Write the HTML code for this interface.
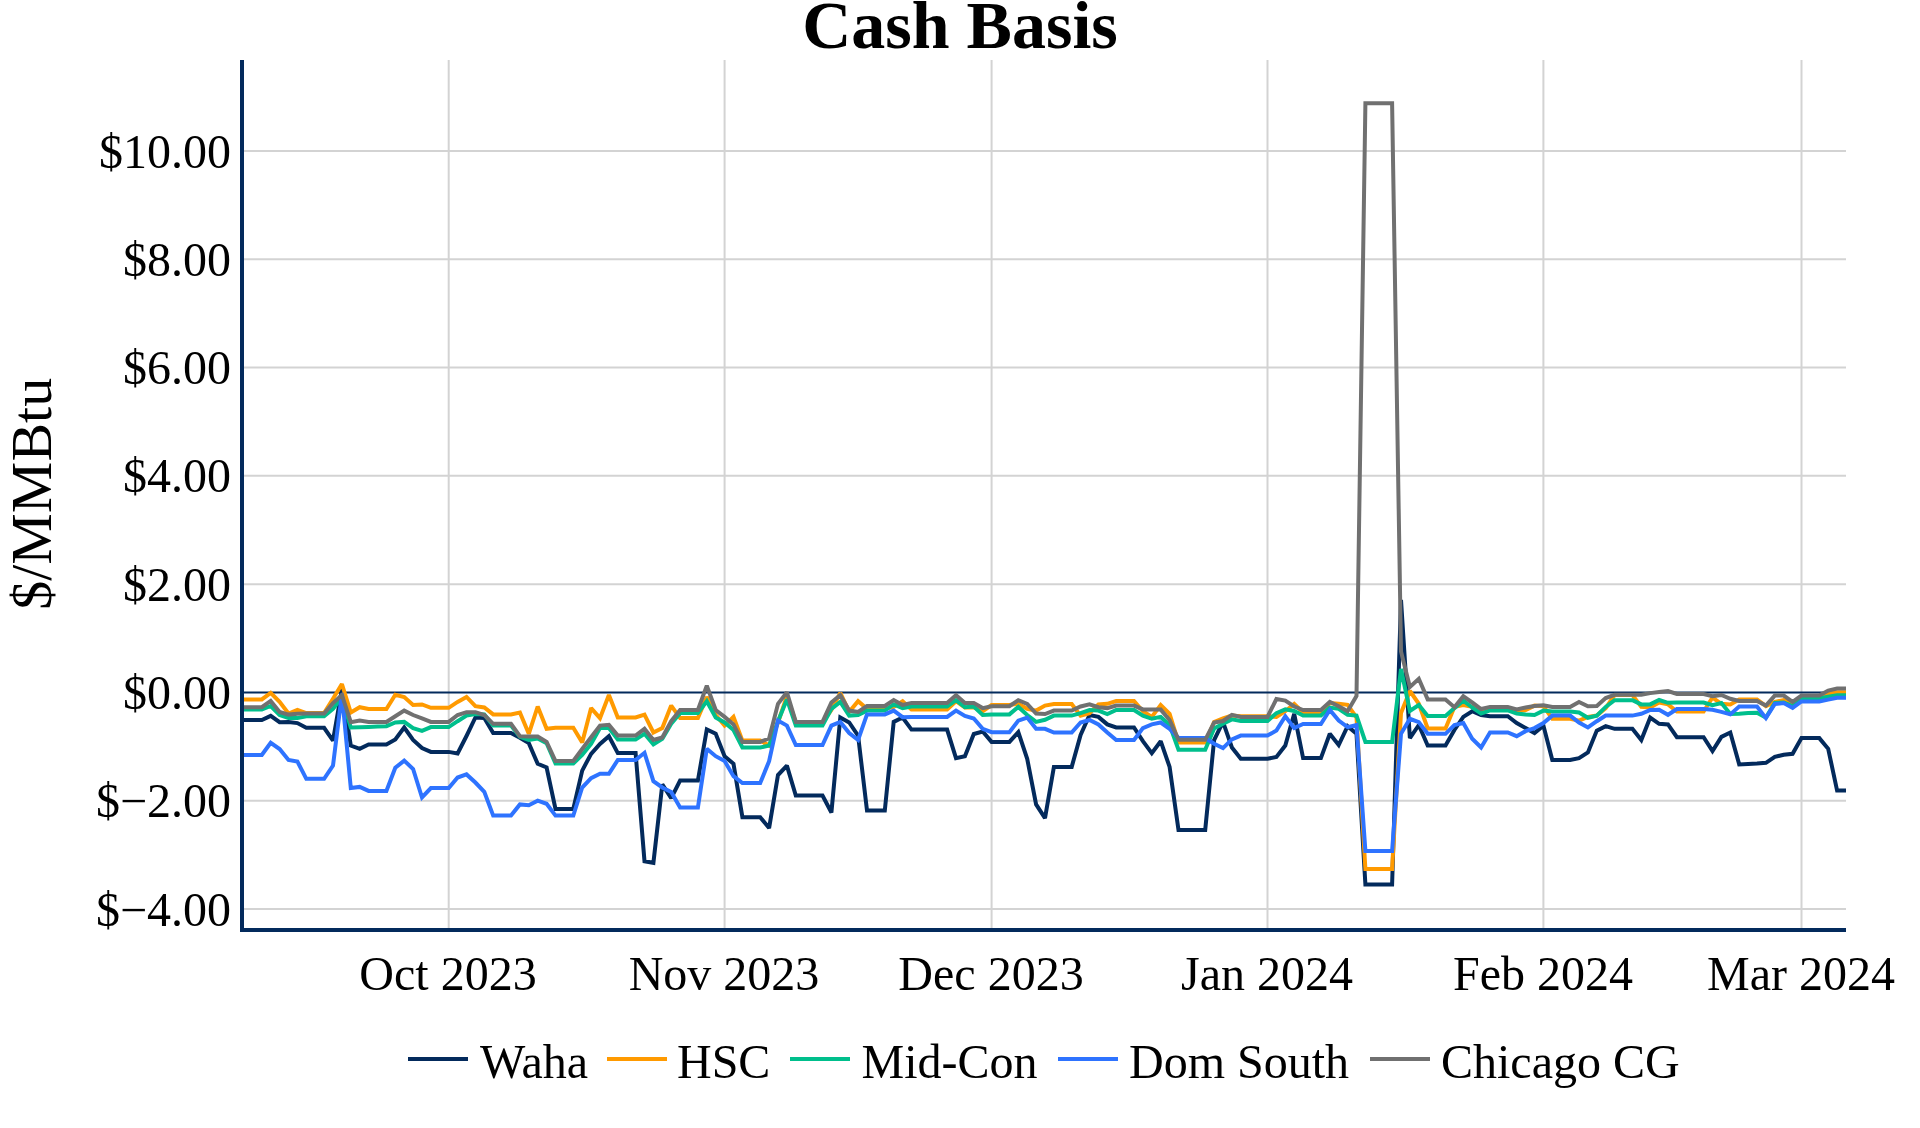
<!DOCTYPE html>
<html><head><meta charset="utf-8"><title>Cash Basis</title>
<style>
html,body{margin:0;padding:0;background:#fff;}
svg{display:block;}
text{font-family:"Liberation Serif",serif;fill:#000;filter:grayscale(1);}
.t{font-size:48px;}
.g line{stroke:#d3d3d3;stroke-width:2;}
.s{fill:none;stroke-width:4;stroke-linejoin:miter;stroke-miterlimit:2;stroke-linecap:butt;}
</style></head><body>
<svg width="1920" height="1128" viewBox="0 0 1920 1128">
<defs><clipPath id="pc"><rect x="244" y="60" width="1602" height="868"/></clipPath></defs>
<rect width="1920" height="1128" fill="#fff"/>
<text x="960" y="48" text-anchor="middle" font-size="68" font-weight="bold">Cash Basis</text>
<g class="g">
<line x1="448.7" y1="60" x2="448.7" y2="928"/><line x1="724.6" y1="60" x2="724.6" y2="928"/><line x1="991.6" y1="60" x2="991.6" y2="928"/><line x1="1267.5" y1="60" x2="1267.5" y2="928"/><line x1="1543.4" y1="60" x2="1543.4" y2="928"/><line x1="1801.5" y1="60" x2="1801.5" y2="928"/>
<line x1="244" y1="150.95" x2="1846" y2="150.95"/><line x1="244" y1="259.25" x2="1846" y2="259.25"/><line x1="244" y1="367.55" x2="1846" y2="367.55"/><line x1="244" y1="475.85" x2="1846" y2="475.85"/><line x1="244" y1="584.15" x2="1846" y2="584.15"/><line x1="244" y1="800.75" x2="1846" y2="800.75"/><line x1="244" y1="909.05" x2="1846" y2="909.05"/>
</g>
<line x1="244" y1="692.45" x2="1846" y2="692.45" stroke="#032a5c" stroke-width="2"/>
<g clip-path="url(#pc)">
<path class="s" stroke="#032a5c" d="M244.0,720.0L252.9,720.0L261.8,720.0L270.7,715.9L279.6,722.2L288.5,722.1L297.4,723.1L306.3,727.8L315.2,727.8L324.1,727.8L333.0,740.6L341.9,689.4L350.8,745.6L359.7,748.8L368.6,744.4L377.5,744.4L386.4,744.4L395.3,739.4L404.2,727.5L413.1,740.0L422.0,748.1L430.9,751.9L439.8,751.9L448.7,751.9L457.6,753.5L466.5,736.0L475.4,717.5L484.3,718.1L493.2,733.1L502.1,733.1L511.0,733.1L519.9,737.8L528.8,743.1L537.7,763.8L546.6,767.5L555.5,809.0L564.4,809.0L573.3,809.0L582.2,770.6L591.1,753.8L600.0,744.0L608.9,736.2L617.8,753.1L626.7,753.1L635.6,753.1L644.5,861.2L653.4,862.8L662.3,784.4L671.2,798.1L680.1,780.6L689.0,780.6L697.9,780.6L706.8,729.4L715.7,733.8L724.6,756.2L733.5,763.8L742.4,817.2L751.3,817.2L760.2,817.2L769.1,828.1L778.0,775.0L786.9,765.6L795.8,795.6L804.7,795.6L813.6,795.6L822.5,795.6L831.4,812.5L840.3,717.5L849.2,722.5L858.1,735.6L867.0,810.6L875.9,810.6L884.8,810.6L893.7,721.9L902.6,717.5L911.5,729.6L920.4,729.6L929.3,729.6L938.2,729.6L947.1,729.6L956.0,758.1L964.9,756.2L973.8,734.0L982.7,731.5L991.6,741.9L1000.5,741.9L1009.4,741.9L1018.3,732.2L1027.2,758.8L1036.1,804.4L1045.0,818.1L1053.9,766.9L1062.8,766.9L1071.7,766.9L1080.6,735.0L1089.5,715.0L1098.4,716.9L1107.3,724.4L1116.2,727.5L1125.1,727.5L1134.0,727.5L1142.9,741.2L1151.8,753.1L1160.7,741.2L1169.6,766.9L1178.5,830.0L1187.4,830.0L1196.3,830.0L1205.2,830.0L1214.1,740.0L1223.0,721.9L1231.9,747.5L1240.8,758.8L1249.7,758.8L1258.6,758.8L1267.5,758.8L1276.4,756.9L1285.3,745.6L1294.2,713.8L1303.1,758.1L1312.0,758.1L1320.9,758.1L1329.8,733.8L1338.7,745.0L1347.6,726.2L1356.5,733.8L1365.4,884.4L1374.3,884.4L1383.2,884.4L1392.1,884.4L1401.0,600.0L1409.9,738.1L1418.8,725.0L1427.7,745.6L1436.6,745.6L1445.5,745.6L1454.4,730.0L1463.3,716.9L1472.2,711.2L1481.1,715.0L1490.0,716.2L1498.9,716.2L1507.8,716.2L1516.7,723.1L1525.6,728.1L1534.5,733.1L1543.4,725.6L1552.3,760.0L1561.2,760.0L1570.1,760.0L1579.0,758.1L1587.9,752.5L1596.8,730.6L1605.7,726.2L1614.6,728.8L1623.5,728.8L1632.4,728.8L1641.3,740.0L1650.2,717.5L1659.1,723.8L1668.0,724.4L1676.9,737.2L1685.8,737.2L1694.7,737.2L1703.6,737.2L1712.5,751.0L1721.4,736.9L1730.3,732.5L1739.2,764.4L1748.1,764.0L1757.0,763.5L1765.9,762.8L1774.8,756.9L1783.7,754.8L1792.6,753.8L1801.5,738.1L1810.4,738.1L1819.3,738.1L1828.2,748.8L1837.1,790.6L1846.0,790.6"/>
<path class="s" stroke="#ff9a00" d="M244.0,699.4L252.9,699.4L261.8,699.4L270.7,692.8L279.6,701.9L288.5,713.5L297.4,710.0L306.3,713.1L315.2,713.1L324.1,713.1L333.0,698.8L341.9,684.0L350.8,712.5L359.7,707.2L368.6,709.0L377.5,709.0L386.4,709.0L395.3,694.8L404.2,697.1L413.1,705.0L422.0,704.4L430.9,707.8L439.8,707.8L448.7,707.8L457.6,701.9L466.5,696.9L475.4,706.2L484.3,707.5L493.2,714.4L502.1,714.4L511.0,714.4L519.9,712.5L528.8,733.8L537.7,706.5L546.6,728.8L555.5,727.8L564.4,727.8L573.3,727.8L582.2,742.5L591.1,708.1L600.0,718.1L608.9,695.0L617.8,717.5L626.7,717.5L635.6,717.5L644.5,714.6L653.4,732.5L662.3,728.1L671.2,705.6L680.1,718.1L689.0,718.1L697.9,718.1L706.8,696.9L715.7,715.0L724.6,725.6L733.5,716.9L742.4,740.6L751.3,740.6L760.2,740.6L769.1,745.6L778.0,722.5L786.9,696.2L795.8,722.5L804.7,722.5L813.6,722.5L822.5,722.5L831.4,710.0L840.3,692.8L849.2,711.9L858.1,701.2L867.0,708.8L875.9,708.8L884.8,708.8L893.7,706.9L902.6,701.2L911.5,709.4L920.4,709.4L929.3,709.4L938.2,709.6L947.1,709.6L956.0,701.2L964.9,707.5L973.8,707.5L982.7,711.2L991.6,705.0L1000.5,705.0L1009.4,705.0L1018.3,703.8L1027.2,708.8L1036.1,710.6L1045.0,705.6L1053.9,704.0L1062.8,704.0L1071.7,704.0L1080.6,715.6L1089.5,713.1L1098.4,704.4L1107.3,703.8L1116.2,701.0L1125.1,701.0L1134.0,701.0L1142.9,711.2L1151.8,716.9L1160.7,705.0L1169.6,713.8L1178.5,742.5L1187.4,742.5L1196.3,742.5L1205.2,742.5L1214.1,722.1L1223.0,718.5L1231.9,715.6L1240.8,716.2L1249.7,716.2L1258.6,716.2L1267.5,716.2L1276.4,716.9L1285.3,711.2L1294.2,704.0L1303.1,712.5L1312.0,712.5L1320.9,712.5L1329.8,703.1L1338.7,703.8L1347.6,704.8L1356.5,717.5L1365.4,869.0L1374.3,869.0L1383.2,869.0L1392.1,869.0L1401.0,713.0L1409.9,691.0L1418.8,703.8L1427.7,728.5L1436.6,728.5L1445.5,728.5L1454.4,706.9L1463.3,705.0L1472.2,706.9L1481.1,711.9L1490.0,709.4L1498.9,709.4L1507.8,709.4L1516.7,711.2L1525.6,710.0L1534.5,705.6L1543.4,706.2L1552.3,718.8L1561.2,718.8L1570.1,718.8L1579.0,720.6L1587.9,716.9L1596.8,715.6L1605.7,708.1L1614.6,695.1L1623.5,695.1L1632.4,695.1L1641.3,706.9L1650.2,707.5L1659.1,702.5L1668.0,704.4L1676.9,711.5L1685.8,711.5L1694.7,711.5L1703.6,711.5L1712.5,697.5L1721.4,703.8L1730.3,704.4L1739.2,699.4L1748.1,699.4L1757.0,699.4L1765.9,706.2L1774.8,701.9L1783.7,700.0L1792.6,703.8L1801.5,696.9L1810.4,696.9L1819.3,696.9L1828.2,693.5L1837.1,692.3L1846.0,692.3"/>
<path class="s" stroke="#00bf8c" d="M244.0,709.4L252.9,709.4L261.8,709.4L270.7,706.0L279.6,715.0L288.5,718.1L297.4,718.1L306.3,716.2L315.2,716.2L324.1,716.2L333.0,708.8L341.9,697.5L350.8,727.5L359.7,727.2L368.6,726.9L377.5,726.6L386.4,726.2L395.3,722.5L404.2,721.9L413.1,728.1L422.0,730.9L430.9,727.1L439.8,727.1L448.7,727.1L457.6,721.2L466.5,715.6L475.4,714.0L484.3,714.4L493.2,725.6L502.1,725.6L511.0,725.6L519.9,736.9L528.8,740.0L537.7,738.5L546.6,743.1L555.5,763.5L564.4,763.5L573.3,763.5L582.2,755.0L591.1,743.8L600.0,728.1L608.9,728.1L617.8,739.4L626.7,739.4L635.6,739.4L644.5,733.8L653.4,744.4L662.3,738.8L671.2,723.8L680.1,713.1L689.0,713.1L697.9,713.1L706.8,701.2L715.7,717.5L724.6,722.5L733.5,730.0L742.4,747.5L751.3,747.5L760.2,747.5L769.1,745.6L778.0,721.2L786.9,699.4L795.8,725.6L804.7,725.6L813.6,725.6L822.5,725.6L831.4,708.8L840.3,701.9L849.2,715.6L858.1,715.0L867.0,710.6L875.9,710.6L884.8,710.6L893.7,704.4L902.6,708.1L911.5,706.5L920.4,706.5L929.3,706.5L938.2,706.5L947.1,706.5L956.0,700.2L964.9,707.2L973.8,706.5L982.7,715.0L991.6,714.4L1000.5,714.4L1009.4,714.4L1018.3,706.9L1027.2,715.0L1036.1,721.9L1045.0,719.8L1053.9,715.6L1062.8,715.6L1071.7,715.6L1080.6,713.1L1089.5,710.0L1098.4,710.6L1107.3,714.0L1116.2,710.0L1125.1,710.0L1134.0,710.0L1142.9,715.6L1151.8,718.8L1160.7,716.9L1169.6,725.0L1178.5,749.8L1187.4,749.8L1196.3,749.8L1205.2,749.8L1214.1,728.5L1223.0,723.8L1231.9,719.4L1240.8,721.0L1249.7,721.0L1258.6,721.0L1267.5,721.0L1276.4,713.1L1285.3,709.4L1294.2,711.0L1303.1,715.6L1312.0,715.6L1320.9,715.6L1329.8,707.5L1338.7,708.8L1347.6,714.8L1356.5,715.6L1365.4,741.9L1374.3,741.9L1383.2,741.9L1392.1,741.9L1401.0,669.0L1409.9,711.0L1418.8,705.0L1427.7,716.0L1436.6,716.0L1445.5,716.0L1454.4,708.1L1463.3,700.6L1472.2,707.5L1481.1,713.5L1490.0,710.4L1498.9,710.4L1507.8,710.4L1516.7,713.5L1525.6,714.4L1534.5,715.0L1543.4,710.6L1552.3,711.5L1561.2,711.5L1570.1,711.5L1579.0,712.5L1587.9,717.8L1596.8,715.6L1605.7,706.9L1614.6,700.2L1623.5,700.2L1632.4,700.2L1641.3,704.4L1650.2,704.4L1659.1,700.0L1668.0,702.8L1676.9,702.5L1685.8,702.5L1694.7,702.5L1703.6,702.5L1712.5,705.2L1721.4,703.1L1730.3,714.0L1739.2,713.8L1748.1,713.1L1757.0,712.8L1765.9,717.5L1774.8,703.0L1783.7,702.5L1792.6,706.2L1801.5,698.2L1810.4,698.2L1819.3,698.2L1828.2,696.8L1837.1,695.2L1846.0,695.2"/>
<path class="s" stroke="#2e73ff" d="M244.0,755.0L252.9,755.0L261.8,755.0L270.7,742.8L279.6,749.0L288.5,760.0L297.4,761.5L306.3,778.8L315.2,778.8L324.1,778.8L333.0,765.6L341.9,693.8L350.8,788.1L359.7,786.9L368.6,790.9L377.5,790.9L386.4,790.9L395.3,767.8L404.2,760.6L413.1,769.0L422.0,797.5L430.9,788.1L439.8,788.1L448.7,788.1L457.6,777.5L466.5,774.4L475.4,782.5L484.3,791.9L493.2,815.6L502.1,815.6L511.0,815.6L519.9,804.4L528.8,805.2L537.7,800.6L546.6,803.8L555.5,815.6L564.4,815.6L573.3,815.6L582.2,787.5L591.1,778.1L600.0,773.8L608.9,773.8L617.8,760.0L626.7,760.0L635.6,760.0L644.5,752.8L653.4,781.2L662.3,787.5L671.2,791.9L680.1,807.5L689.0,807.5L697.9,807.5L706.8,748.8L715.7,756.2L724.6,761.0L733.5,776.2L742.4,783.1L751.3,783.1L760.2,783.1L769.1,761.2L778.0,720.6L786.9,725.6L795.8,745.0L804.7,745.0L813.6,745.0L822.5,745.0L831.4,725.6L840.3,721.9L849.2,733.1L858.1,740.0L867.0,714.4L875.9,714.4L884.8,714.4L893.7,710.6L902.6,717.2L911.5,716.9L920.4,716.9L929.3,716.9L938.2,716.9L947.1,716.9L956.0,710.6L964.9,716.0L973.8,718.5L982.7,728.8L991.6,732.2L1000.5,732.2L1009.4,732.2L1018.3,720.6L1027.2,717.5L1036.1,728.8L1045.0,728.8L1053.9,732.5L1062.8,732.5L1071.7,732.5L1080.6,722.5L1089.5,720.0L1098.4,724.4L1107.3,732.5L1116.2,740.0L1125.1,740.0L1134.0,740.0L1142.9,728.1L1151.8,724.4L1160.7,722.5L1169.6,728.8L1178.5,738.0L1187.4,738.0L1196.3,738.0L1205.2,738.0L1214.1,743.8L1223.0,748.1L1231.9,739.4L1240.8,735.6L1249.7,735.6L1258.6,735.6L1267.5,735.6L1276.4,730.6L1285.3,716.2L1294.2,728.1L1303.1,724.0L1312.0,724.0L1320.9,724.0L1329.8,710.0L1338.7,720.6L1347.6,727.2L1356.5,725.0L1365.4,851.0L1374.3,851.0L1383.2,851.0L1392.1,851.0L1401.0,733.8L1409.9,718.8L1418.8,722.2L1427.7,733.8L1436.6,733.8L1445.5,733.8L1454.4,725.0L1463.3,723.1L1472.2,738.8L1481.1,747.5L1490.0,732.5L1498.9,732.5L1507.8,732.5L1516.7,736.2L1525.6,731.2L1534.5,728.1L1543.4,723.1L1552.3,715.6L1561.2,715.6L1570.1,715.6L1579.0,722.5L1587.9,727.5L1596.8,721.2L1605.7,715.6L1614.6,715.6L1623.5,715.6L1632.4,715.6L1641.3,713.8L1650.2,710.0L1659.1,709.8L1668.0,714.8L1676.9,709.1L1685.8,709.1L1694.7,709.1L1703.6,709.1L1712.5,709.8L1721.4,711.9L1730.3,714.4L1739.2,706.5L1748.1,706.5L1757.0,706.5L1765.9,718.1L1774.8,704.0L1783.7,703.1L1792.6,707.9L1801.5,701.4L1810.4,701.4L1819.3,701.4L1828.2,699.6L1837.1,697.8L1846.0,697.8"/>
<path class="s" stroke="#707070" d="M244.0,707.2L252.9,707.2L261.8,707.2L270.7,700.9L279.6,711.9L288.5,714.6L297.4,713.8L306.3,713.5L315.2,713.5L324.1,713.5L333.0,703.1L341.9,695.0L350.8,722.2L359.7,720.6L368.6,721.9L377.5,721.9L386.4,721.9L395.3,716.2L404.2,710.6L413.1,715.0L422.0,718.4L430.9,721.9L439.8,721.9L448.7,721.9L457.6,715.0L466.5,712.2L475.4,712.2L484.3,715.0L493.2,723.8L502.1,723.8L511.0,723.8L519.9,736.2L528.8,736.5L537.7,736.5L546.6,741.9L555.5,761.0L564.4,761.0L573.3,761.0L582.2,749.0L591.1,737.2L600.0,725.6L608.9,724.8L617.8,735.6L626.7,735.6L635.6,735.6L644.5,728.8L653.4,740.0L662.3,737.5L671.2,721.2L680.1,710.0L689.0,710.0L697.9,710.0L706.8,685.6L715.7,710.0L724.6,716.9L733.5,724.4L742.4,741.9L751.3,741.9L760.2,741.9L769.1,738.5L778.0,703.8L786.9,692.2L795.8,721.9L804.7,721.9L813.6,721.9L822.5,721.9L831.4,702.5L840.3,695.0L849.2,710.6L858.1,711.9L867.0,706.0L875.9,706.0L884.8,706.0L893.7,700.0L902.6,705.0L911.5,702.9L920.4,702.9L929.3,702.9L938.2,702.9L947.1,702.9L956.0,695.2L964.9,703.1L973.8,703.1L982.7,708.1L991.6,706.2L1000.5,706.2L1009.4,706.2L1018.3,700.2L1027.2,704.0L1036.1,713.5L1045.0,714.0L1053.9,710.6L1062.8,710.6L1071.7,710.6L1080.6,706.5L1089.5,704.4L1098.4,707.2L1107.3,708.1L1116.2,705.6L1125.1,705.6L1134.0,705.6L1142.9,709.4L1151.8,709.6L1160.7,709.6L1169.6,720.0L1178.5,739.8L1187.4,739.8L1196.3,739.8L1205.2,739.8L1214.1,722.5L1223.0,721.0L1231.9,714.8L1240.8,716.9L1249.7,716.9L1258.6,716.9L1267.5,716.9L1276.4,699.0L1285.3,700.6L1294.2,706.5L1303.1,710.0L1312.0,710.0L1320.9,710.0L1329.8,701.9L1338.7,706.2L1347.6,711.2L1356.5,696.0L1365.4,103.2L1374.3,103.2L1383.2,103.2L1392.1,103.2L1401.0,651.6L1409.9,686.9L1418.8,678.8L1427.7,699.4L1436.6,699.4L1445.5,699.4L1454.4,707.2L1463.3,696.2L1472.2,702.5L1481.1,709.0L1490.0,706.9L1498.9,706.9L1507.8,706.9L1516.7,709.4L1525.6,707.5L1534.5,706.0L1543.4,705.2L1552.3,706.9L1561.2,706.9L1570.1,706.9L1579.0,701.9L1587.9,706.2L1596.8,706.0L1605.7,698.1L1614.6,694.8L1623.5,694.8L1632.4,694.8L1641.3,694.8L1650.2,693.1L1659.1,691.9L1668.0,691.0L1676.9,694.0L1685.8,694.0L1694.7,694.0L1703.6,694.0L1712.5,696.2L1721.4,695.0L1730.3,698.8L1739.2,701.0L1748.1,701.0L1757.0,701.0L1765.9,705.6L1774.8,695.6L1783.7,695.6L1792.6,701.9L1801.5,695.6L1810.4,695.6L1819.3,695.6L1828.2,690.6L1837.1,688.5L1846.0,688.5"/>
</g>
<line x1="242" y1="60" x2="242" y2="932" stroke="#032a5c" stroke-width="4"/>
<line x1="240" y1="930" x2="1846" y2="930" stroke="#032a5c" stroke-width="4"/>
<g class="t" text-anchor="end">
<text x="231" y="167.5">$10.00</text><text x="231" y="275.8">$8.00</text><text x="231" y="384.1">$6.00</text><text x="231" y="492.4">$4.00</text><text x="231" y="600.7">$2.00</text><text x="231" y="709">$0.00</text><text x="231" y="817.3">$−2.00</text><text x="231" y="925.6">$−4.00</text>
</g>
<g class="t" text-anchor="middle">
<text x="448" y="990">Oct 2023</text><text x="724" y="990">Nov 2023</text><text x="991" y="990">Dec 2023</text><text x="1267" y="990">Jan 2024</text><text x="1543" y="990">Feb 2024</text><text x="1801" y="990">Mar 2024</text>
</g>
<text transform="translate(50.6,493.8) rotate(-90)" text-anchor="middle" style="font-size:58px">$/MMBtu</text>
<g class="t">
<line x1="408" y1="1059" x2="468" y2="1059" stroke="#032a5c" stroke-width="4"/><text x="480" y="1077.5">Waha</text>
<line x1="607" y1="1059" x2="667" y2="1059" stroke="#ff9a00" stroke-width="4"/><text x="677" y="1077.5">HSC</text>
<line x1="790" y1="1059" x2="850" y2="1059" stroke="#00bf8c" stroke-width="4"/><text x="861.5" y="1077.5">Mid-Con</text>
<line x1="1058" y1="1059" x2="1118" y2="1059" stroke="#2e73ff" stroke-width="4"/><text x="1129" y="1077.5">Dom South</text>
<line x1="1370" y1="1059" x2="1430" y2="1059" stroke="#707070" stroke-width="4"/><text x="1441" y="1077.5">Chicago CG</text>
</g>
</svg>
</body></html>
